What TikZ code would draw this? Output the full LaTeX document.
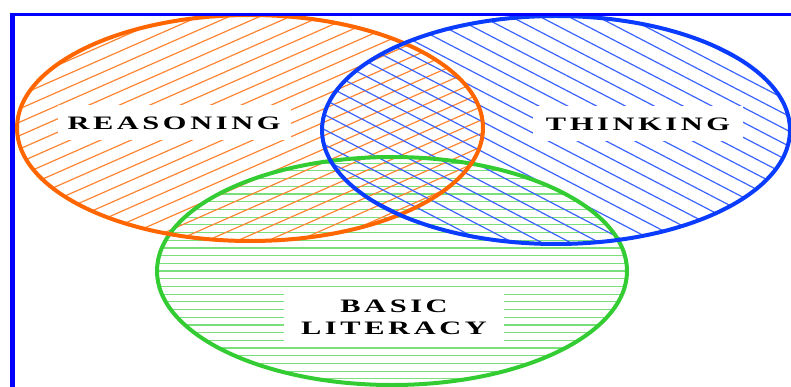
\documentclass[tikz,border=0pt]{standalone}
\usepackage{fontspec}
\usepackage{xcolor}
\usepackage{tikz}
\newfontfamily\vennfont[FakeStretch=1.6,LetterSpace=19]{Liberation Serif}
\definecolor{reasonorange}{HTML}{FF6600}
\definecolor{thinkblue}{HTML}{0A3CFF}
\definecolor{literacygreen}{HTML}{33CC33}
\definecolor{frameblue}{HTML}{0000FF}

\tikzset{
  rim/.style={line width=4pt},
  hatch/.style={line width=1.2pt},
  vennlabel/.style={fill=white, font=\vennfont\bfseries\fontsize{19}{22}\selectfont,
    align=center, inner sep=0pt, minimum height=35pt}
}

\begin{document}
\begin{tikzpicture}[x=1pt,y=-1pt]
\useasboundingbox (0,0) rectangle (791,387);
% hatching, clipped to each set
\begin{scope}
  \clip (392,271) ellipse (235 and 114);
  \foreach \k in {-15,...,15}
    \draw[hatch, literacygreen!65] (150,{271+\k*7.7}) -- (640,{271+\k*7.7});
\end{scope}
\begin{scope}
  \clip (250,128) ellipse (233 and 113);
  \foreach \k in {-17,...,17}
    \draw[hatch, reasonorange!80] (-10,{128+\k*13.4+0.44*260}) -- (510,{128+\k*13.4-0.44*260});
\end{scope}
\begin{scope}
  \clip (556,130) ellipse (234 and 114);
  \foreach \k in {-16,...,16}
    \draw[hatch, thinkblue!80] (310,{130+\k*15-0.52*246}) -- (800,{130+\k*15+0.52*244});
\end{scope}
% outlines
\draw[rim, literacygreen] (392,271) ellipse (235 and 114);
\draw[rim, reasonorange] (250,128) ellipse (233 and 113);
\draw[rim, thinkblue] (556,130) ellipse (234 and 114);
% frame
\draw[frameblue, line width=5pt] (12,387) -- (12,14.5);
\draw[frameblue, line width=2.5pt] (9.5,14.5) -- (791,14.5);
% labels
\node[vennlabel, minimum width=233pt] (reasoning) at (174,123) {REASONING};
\node[vennlabel, minimum width=210pt] (thinking) at (638,124) {THINKING};
\node[vennlabel, minimum width=220pt, minimum height=56pt] (literacy) at (394,317) {BASIC\\LITERACY};
\end{tikzpicture}
\end{document}
